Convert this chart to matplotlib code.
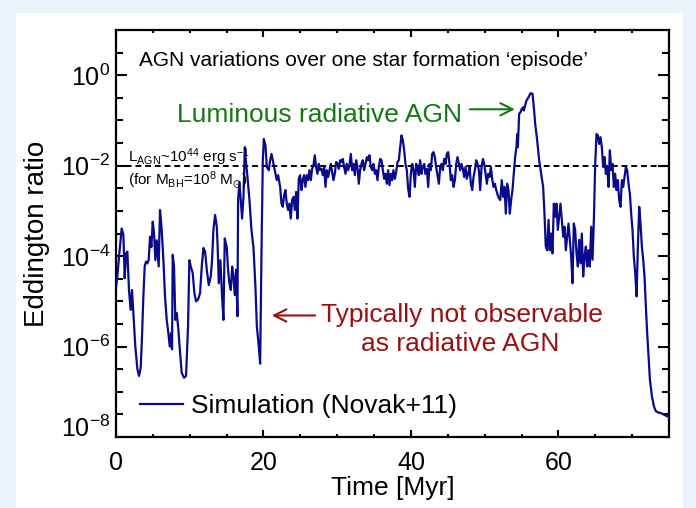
import numpy as np
import matplotlib
matplotlib.use("Agg")
import matplotlib.pyplot as plt
from matplotlib.patches import Rectangle
from matplotlib.ticker import FixedLocator, FuncFormatter, NullFormatter

plt.rcParams['font.family'] = ['Liberation Sans', 'DejaVu Sans']
plt.rcParams['mathtext.fontset'] = 'custom'
plt.rcParams['mathtext.rm'] = 'Liberation Sans'
plt.rcParams['mathtext.it'] = 'Liberation Sans:italic'
plt.rcParams['mathtext.default'] = 'regular'

# ---- data ----
time_myr = [
    0.0, 0.18, 0.45, 0.77, 1.00, 1.18, 1.36, 1.54, 1.76, 1.99, 2.17, 2.35, 2.62, 2.90, 3.12, 3.35,
    3.53, 3.71, 3.89, 4.07, 4.25, 4.43, 4.62, 4.80, 4.98, 5.16, 5.34, 5.52, 5.79, 5.97, 6.20, 6.43,
    6.65, 6.88, 7.10, 7.29, 7.47, 7.60, 7.69, 7.87, 8.05, 8.24, 8.46, 8.69, 8.91, 9.23, 9.50, 9.77,
    9.95, 10.14, 10.41, 10.63, 10.86, 11.13, 11.40, 11.63, 11.86, 12.08, 12.31, 12.58, 12.85, 13.03,
    13.21, 13.44, 13.67, 13.80, 13.94, 14.16, 14.39, 14.57, 14.75, 15.02, 15.20, 15.38, 15.57, 15.75,
    15.93, 16.11, 16.29, 16.47, 16.56, 16.74, 16.92, 17.10, 17.29, 17.47, 17.65, 17.83, 18.10, 18.37,
    18.64, 18.91, 19.10, 19.37, 19.55, 19.73, 19.91, 20.05, 20.27, 20.45, 20.72, 20.90, 21.09,
    21.53, 21.80, 21.99, 22.26, 22.44, 22.62, 22.80, 22.98, 23.16, 23.34, 23.52, 23.70, 23.89, 24.07,
    24.25, 24.43, 24.61, 24.79, 24.97, 25.15, 25.33, 25.51, 25.69, 25.88, 26.06, 26.24, 26.42, 26.60,
    26.78, 26.96, 27.14, 27.32, 27.50, 27.68, 27.87, 28.05, 28.23, 28.41, 28.59, 28.77, 28.95, 29.13,
    29.31, 29.49, 29.67, 29.86, 30.04, 30.22, 30.40, 30.58, 30.76, 30.94, 31.12, 31.30, 31.48, 31.66,
    31.85, 32.03, 32.21, 32.39, 32.57, 32.75, 32.93, 33.11, 33.29, 33.47, 33.65, 33.84, 34.02, 34.20,
    34.38, 34.56, 34.74, 34.92, 35.10, 35.28, 35.46, 35.64, 35.83, 36.01, 36.19, 36.37, 36.55, 36.73,
    36.91, 37.09, 37.27, 37.45, 37.63, 37.82, 38.00, 38.18, 38.36, 38.54, 38.72, 38.90, 39.08, 39.26,
    39.44, 39.62, 39.81, 39.99, 40.17, 40.35, 40.53, 40.71, 40.89, 41.07, 41.25, 41.43, 41.61, 41.80,
    41.98, 42.16, 42.34, 42.52, 42.70, 42.88, 43.06, 43.24, 43.42, 43.60, 43.79, 43.97, 44.15, 44.33,
    44.51, 44.69, 44.87, 45.05, 45.23, 45.41, 45.59, 45.78, 45.96, 46.14, 46.32, 46.50, 46.68, 46.86,
    47.04, 47.22, 47.40, 47.58, 47.77, 47.95, 48.13, 48.31, 48.49, 48.67, 48.85, 49.03, 49.21, 49.39,
    49.58, 49.76, 49.94, 50.12, 50.30, 50.48, 50.66, 50.84, 51.02, 51.20, 51.38, 51.57, 51.84, 52.11,
    52.32, 52.51, 52.69, 52.87, 53.05, 53.23, 53.41, 53.59, 53.77, 53.95, 54.13, 54.31, 54.41, 54.50,
    54.59, 54.68, 54.86, 55.04, 55.22, 55.31, 55.49, 55.67, 55.94, 56.21, 56.49, 56.67, 56.85, 57.12,
    57.39, 57.66, 57.93, 58.11, 58.29, 58.48, 58.66, 58.84, 59.02, 59.20, 59.38, 59.56, 59.74, 59.92,
    60.10, 60.28, 60.47, 60.65, 60.83, 61.01, 61.19, 61.37, 61.55, 61.73, 61.91, 62.09, 62.27, 62.46,
    62.64, 62.82, 63.00, 63.18, 63.36, 63.54, 63.72, 63.90, 64.08, 64.26, 64.45, 64.63, 64.81, 64.99,
    65.17, 65.35, 65.53, 65.71, 65.89, 66.07, 66.25, 66.44, 66.62, 66.80, 66.98, 67.16, 67.34, 67.52,
    67.70, 67.88, 68.06, 68.24, 68.43, 68.61, 68.79, 68.97, 69.15, 69.33, 69.51, 69.69, 69.87, 70.05,
    70.23, 70.42, 70.60, 70.78, 70.96, 71.14, 71.32, 71.50, 71.68, 71.86, 72.04, 72.22, 72.41, 72.68,
    72.95, 73.22, 73.58, 74.03, 74.71, 75.00,
]
log_eddington = [
    -4.70, -4.45, -3.94, -3.39, -3.53, -4.49, -3.94, -3.90, -4.75, -5.19, -4.75, -5.26, -6.00, -6.50, -6.65, -6.47,
    -5.77, -4.90, -4.23, -4.12, -4.16, -4.09, -3.57, -3.80, -3.24, -3.50, -4.09, -3.65, -4.23, -2.98, -3.42, -4.09,
    -4.90, -5.41, -5.70, -6.00, -5.70, -6.06, -3.97, -4.23, -5.41, -5.26, -5.63, -6.14, -6.58, -6.69, -6.65, -5.55,
    -4.09, -4.23, -4.38, -4.82, -5.00, -4.96, -4.82, -4.23, -3.82, -3.90, -4.30, -4.64, -4.45, -4.09,
    -3.42, -3.09, -3.35, -3.86, -4.60, -4.09, -4.90, -5.41, -3.61, -3.80, -4.30, -4.60, -4.75, -4.23,
    -4.45, -4.86, -4.30, -5.33, -2.76, -2.36, -2.76, -3.17, -2.69, -1.59, -1.96, -2.25, -2.76, -3.42,
    -3.80, -4.68, -5.55, -6.00, -6.38, -3.94, -1.88, -1.41, -1.55, -2.03, -2.10, -1.88, -1.74,
    -2.10, -2.32, -2.21, -2.47, -2.84, -2.91, -2.65, -2.54, -2.84, -2.98, -2.84, -3.17, -2.76, -2.69,
    -2.98, -2.58, -3.17, -2.29, -2.21, -2.54, -2.32, -2.21, -2.47, -2.21, -2.32, -2.10, -2.32, -2.07,
    -1.99, -1.77, -2.03, -2.18, -1.96, -2.10, -2.07, -2.21, -2.03, -2.47, -2.10, -2.25, -2.10, -1.96,
    -2.14, -2.32, -2.18, -1.92, -1.96, -2.07, -1.88, -1.92, -1.85, -2.03, -2.18, -1.96, -2.10, -1.99,
    -1.74, -2.10, -1.96, -2.21, -1.88, -2.03, -2.40, -2.10, -1.96, -1.88, -2.10, -1.96, -1.81, -1.88,
    -1.77, -2.03, -2.10, -1.96, -2.18, -2.10, -2.32, -2.03, -1.85, -1.88, -2.10, -2.29, -2.18, -2.40,
    -2.10, -2.43, -2.18, -2.32, -2.10, -2.29, -2.14, -1.92, -1.88, -1.59, -1.33, -1.44, -1.66, -1.96,
    -2.10, -2.51, -2.69, -2.18, -1.96, -2.10, -2.47, -1.96, -2.07, -2.21, -1.88, -2.18, -2.03, -1.96,
    -2.18, -2.07, -2.47, -1.96, -2.10, -1.74, -1.70, -1.81, -2.03, -2.21, -2.40, -2.03, -1.96, -2.10,
    -1.85, -1.96, -1.74, -1.70, -1.96, -2.32, -2.21, -2.47, -2.32, -1.96, -1.81, -1.96, -2.10, -1.96,
    -2.07, -2.25, -2.03, -2.29, -2.18, -2.03, -2.40, -2.54, -2.25, -2.10, -1.88, -1.96, -2.10, -2.54,
    -2.03, -1.85, -1.96, -2.18, -2.40, -2.18, -2.25, -2.03, -2.29, -2.47, -2.40, -2.54, -2.69, -2.76,
    -2.32, -2.69, -2.47, -3.06, -2.40, -2.54, -3.06, -2.76, -2.54, -2.18, -1.81, -1.59, -1.30, -1.59,
    -1.22, -0.85, -0.82, -0.74, -0.71, -0.78, -0.67, -0.56, -0.49, -0.40, -0.41, -0.71, -1.07, -1.44,
    -1.88, -2.18, -2.47, -3.06, -3.79, -3.87, -3.20, -3.87, -3.50, -3.94, -2.84, -3.13, -2.84, -3.42,
    -3.13, -2.84, -3.20, -3.57, -3.35, -3.87, -3.57, -3.28, -3.64, -4.01, -4.60, -3.28, -3.42, -3.94,
    -4.23, -3.64, -4.16, -3.50, -4.45, -4.01, -3.79, -4.23, -3.87, -4.23, -3.35, -4.08, -3.20, -1.96,
    -1.30, -1.33, -1.52, -1.37, -1.59, -2.03, -1.81, -2.18, -2.03, -2.47, -1.66, -2.10, -1.96, -2.47,
    -2.18, -2.54, -2.32, -2.76, -2.91, -2.32, -2.47, -2.25, -2.03, -2.10, -2.40, -2.62, -3.06, -3.42,
    -4.01, -4.38, -4.89, -3.79, -2.91, -3.28, -3.79, -4.08, -4.45, -5.11, -5.70, -6.21, -6.73, -7.10,
    -7.32, -7.43, -7.46, -7.48, -7.54, -7.55,
]
eddington_ratio = 10.0 ** np.array(log_eddington)

threshold = 1e-2
x_major = [0, 20, 40, 60]
x_minor = [5, 10, 15, 25, 30, 35, 45, 50, 55, 65, 70]
y_major = [1e-8, 1e-6, 1e-4, 1e-2, 1e0]
y_minor_exp = [-7.5, -7, -6.5, -5.5, -5, -4.5, -3.5, -3, -2.5, -1.5, -1, -0.5, 0.5]

line_color = '#0a0a8c'
green = '#147814'
red = '#9a1010'

fig = plt.figure(figsize=(6.96, 5.08), dpi=100)
fig.patch.set_facecolor('#eaf2fb')
fig.patches.append(Rectangle((16 / 696, 0), (683 - 16) / 696, (508 - 13) / 508,
                             transform=fig.transFigure, facecolor='white',
                             edgecolor='none', zorder=-1))

ax = fig.add_axes([116 / 696, (508 - 437) / 508, 553 / 696, 407 / 508])
ax.set_yscale('log')
ax.set_xlim(0, 75)
ax.set_ylim(1e-8, 1e1)

ax.plot(time_myr, eddington_ratio, color=line_color, lw=1.6,
        label='Simulation (Novak+11)', zorder=3)
ax.axhline(threshold, color='black', lw=1.4, ls=(0, (3, 2)), zorder=2)

# ticks
ax.xaxis.set_major_locator(FixedLocator(x_major))
ax.xaxis.set_minor_locator(FixedLocator(x_minor))
ax.yaxis.set_major_locator(FixedLocator(y_major))
ax.yaxis.set_minor_locator(FixedLocator([10.0 ** e for e in y_minor_exp]))
ax.yaxis.set_major_formatter(FuncFormatter(
    lambda v, p: r'$10^{%d}$' % int(round(np.log10(v)))))
ax.yaxis.set_minor_formatter(NullFormatter())
ax.xaxis.set_major_formatter(FuncFormatter(lambda v, p: '%d' % v))

ax.tick_params(axis='both', which='both', direction='in', top=True, right=True,
               width=1.5, labelsize=18)
ax.tick_params(axis='y', which='major', length=8, pad=4)
ax.tick_params(axis='y', which='minor', length=5)
ax.tick_params(axis='x', which='major', length=5, pad=10)
ax.tick_params(axis='x', which='minor', length=2.5)
for s in ax.spines.values():
    s.set_linewidth(1.6)

ax.set_xlabel('Time [Myr]', fontsize=19)
ax.set_ylabel('Eddington ratio', fontsize=20)
ax.xaxis.set_label_coords(0.5, -0.096)
ax.yaxis.set_label_coords(-0.119, 0.5)

# texts
ax.text(3.1, 10 ** 0.194, 'AGN variations over one star formation \u2018episode\u2019',
        fontsize=15, ha='left', va='baseline')
ax.text(8.23, 10 ** -1.033, 'Luminous radiative AGN', fontsize=19, color=green,
        ha='left', va='baseline')
ax.annotate('', xy=(54.1, 10 ** -0.753), xytext=(48.0, 10 ** -0.753),
            arrowprops=dict(arrowstyle='->', color=green, lw=1.5,
                            mutation_scale=22, shrinkA=0, shrinkB=0))
ax.text(46.94, 10 ** -5.467, 'Typically not observable', fontsize=19, color=red,
        ha='center', va='baseline')
ax.text(46.68, 10 ** -6.10, 'as radiative AGN', fontsize=19, color=red,
        ha='center', va='baseline')
ax.annotate('', xy=(21.13, 10 ** -5.313), xytext=(27.0, 10 ** -5.313),
            arrowprops=dict(arrowstyle='->', color=red, lw=1.5,
                            mutation_scale=22, shrinkA=0, shrinkB=0))
ax.text(1.63, 10 ** -1.914, r'L$_{AGN}$~10$^{44}$ erg s$^{-1}$', fontsize=11,
        ha='left', va='baseline')
ax.text(1.63, 10 ** -2.449, r'(for M$_{BH}$=10$^{8}$ M$_{\odot}$)', fontsize=11,
        ha='left', va='baseline')

ax.legend(loc='center left', bbox_to_anchor=(0.0434, 0.0762), frameon=False,
          fontsize=19, handlelength=1.63, handletextpad=0.3, borderpad=0,
          borderaxespad=0)

# bottom y label lifted above the x axis like the reference
fig.canvas.draw()
for lab in ax.get_yticklabels():
    if lab.get_text() == r'$10^{-8}$':
        lab.set_va('baseline')

fig.savefig('out.png', dpi=100, facecolor=fig.get_facecolor())
